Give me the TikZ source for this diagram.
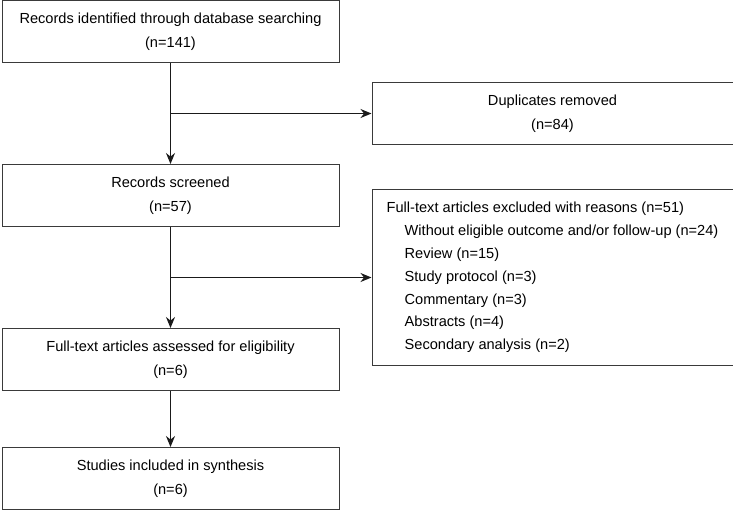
\documentclass[tikz,border=0pt]{standalone}
\usepackage{fontspec}
\setmainfont{Liberation Sans}
\usetikzlibrary{arrows.meta,positioning,calc}
\definecolor{boxcol}{HTML}{3A3A3A}
\definecolor{linecol}{HTML}{1A1A1A}
\tikzstyle{flow} = [-{Stealth[length=11pt,width=9pt]},linecol,line width=1.1pt]
\tikzset{
  basic box/.style = {
    shape = rectangle,
    draw = boxcol,
    line width = 1pt,
    align = center,
    font = \fontsize{14.6}{24}\selectfont,
    },
  main box/.style = {
    basic box,
    minimum width = 337pt,
    minimum height = 62pt,
    },
  side box/.style = {
    basic box,
    anchor = west,
    minimum width = 361pt,
    minimum height = #1,
    },
  list box/.style = {
    side box=176pt,
    align = left,
    font = \fontsize{14.6}{22.8}\selectfont,
    }
}
\newcommand{\sub}{\hspace*{18pt}}

\begin{document}
\begin{tikzpicture}[x=1pt,y=1pt]
    \useasboundingbox (0,0) rectangle (733,-509);

    % left column
    \node [main box] (ident) at (170.5,-31.5) {Records identified through database searching\\(n=141)};
    \node [main box, below=101pt of ident] (screen) {Records screened\\(n=57)};
    \node [main box, below=101pt of screen] (elig) {Full-text articles assessed for eligibility\\(n=6)};
    \node [main box, below=56pt of elig] (incl) {Studies included in synthesis\\(n=6)};

    % branch points
    \coordinate (br1) at ($(ident.south)!0.5!(screen.north)$);
    \coordinate (br2) at ($(screen.south)!0.5!(elig.north)$);

    % right column
    \node [side box=62pt] (dup) at ([xshift=201pt]br1) {Duplicates removed\\(n=84)};
    \node [list box] (excl) at ([xshift=201pt]br2) {Full-text articles excluded with reasons (n=51)\\
        \sub Without eligible outcome and/or follow-up (n=24)\\
        \sub Review (n=15)\\
        \sub Study protocol (n=3)\\
        \sub Commentary (n=3)\\
        \sub Abstracts (n=4)\\
        \sub Secondary analysis (n=2)};

    % Paths
    \draw[flow] (ident.south) -- (screen.north);
    \draw[flow] (screen.south) -- (elig.north);
    \draw[flow] (elig.south) -- (incl.north);
    \draw[flow] (br1) -- (dup.west);
    \draw[flow] (br2) -- (excl.west);
\end{tikzpicture}
\end{document}
